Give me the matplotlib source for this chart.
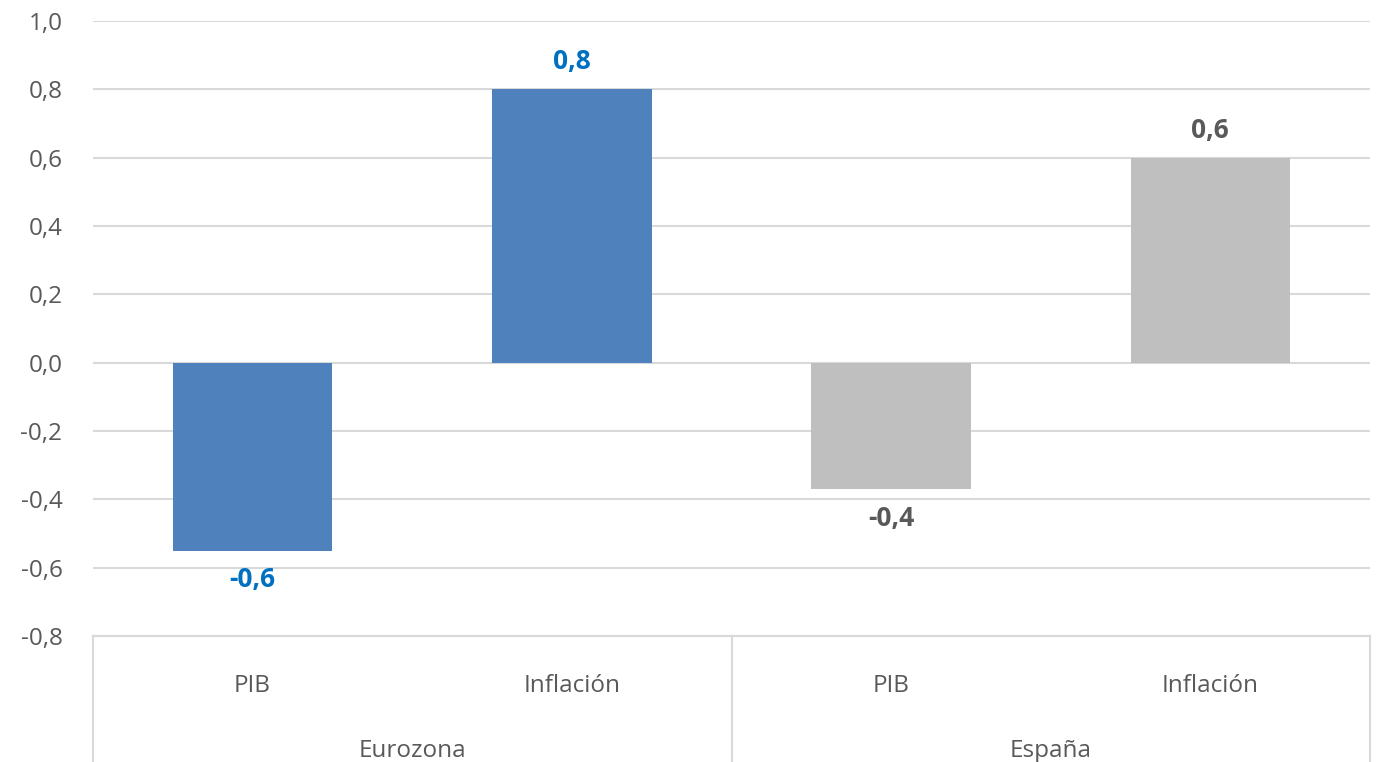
import matplotlib.pyplot as plt
from matplotlib.transforms import blended_transform_factory

# datos
grupos = ['Eurozona', 'España']
categorias = ['PIB', 'Inflación', 'PIB', 'Inflación']
valores = [-0.55, 0.8, -0.37, 0.6]
colores = ['#4F81BD', '#4F81BD', '#BFBFBF', '#BFBFBF']
colores_etiqueta = ['#0070C0', '#0070C0', '#595959', '#595959']
yticks = [-0.8, -0.6, -0.4, -0.2, 0.0, 0.2, 0.4, 0.6, 0.8, 1.0]

plt.rcParams['font.family'] = ['Open Sans', 'DejaVu Sans']
gris = '#595959'
rejilla = '#D9D9D9'

fig = plt.figure(figsize=(13.76, 7.62), dpi=100)
ax = fig.add_axes([93 / 1376, 1 - 636 / 762, (1370 - 93) / 1376, (636 - 21) / 762])

x = list(range(len(valores)))
ax.bar(x, valores, width=0.5, color=colores, zorder=3)

ax.set_xlim(-0.5, len(valores) - 0.5)
ax.set_ylim(-0.8, 1.0)
ax.set_yticks(yticks)
ax.set_yticklabels([f'{v:.1f}'.replace('.', ',') for v in yticks], color=gris, fontsize=17.5)
ax.tick_params(axis='y', length=0, pad=22)
ax.set_xticks([])
ax.grid(axis='y', color=rejilla, linewidth=1.5, zorder=0)
for s in ax.spines.values():
    s.set_visible(False)

# etiquetas de valor
for xi, v, c in zip(x, valores, colores_etiqueta):
    off = 0.08 if v > 0 else -0.085
    ax.text(xi, v + off, f'{v:.1f}'.replace('.', ','), ha='center', va='center',
            fontsize=19, fontweight='bold', color=c)

# eje de categorías en dos niveles
trans = blended_transform_factory(ax.transData, ax.transAxes)
ax.plot([-0.5, len(valores) - 0.5], [0, 0], transform=trans, color=rejilla,
        linewidth=1.5, clip_on=False)
for xs in [-0.5, 1.5, 3.5]:
    ax.plot([xs, xs], [0, -0.25], transform=trans, color=rejilla,
            linewidth=1.5, clip_on=False)
for xi, cat in zip(x, categorias):
    ax.text(xi, -0.082, cat, transform=trans, ha='center', va='center',
            fontsize=17.5, color=gris)
for i, g in enumerate(grupos):
    ax.text(2 * i + 0.5, -0.187, g, transform=trans, ha='center', va='center',
            fontsize=17.5, color=gris)

fig.savefig('out.png', dpi=100)
